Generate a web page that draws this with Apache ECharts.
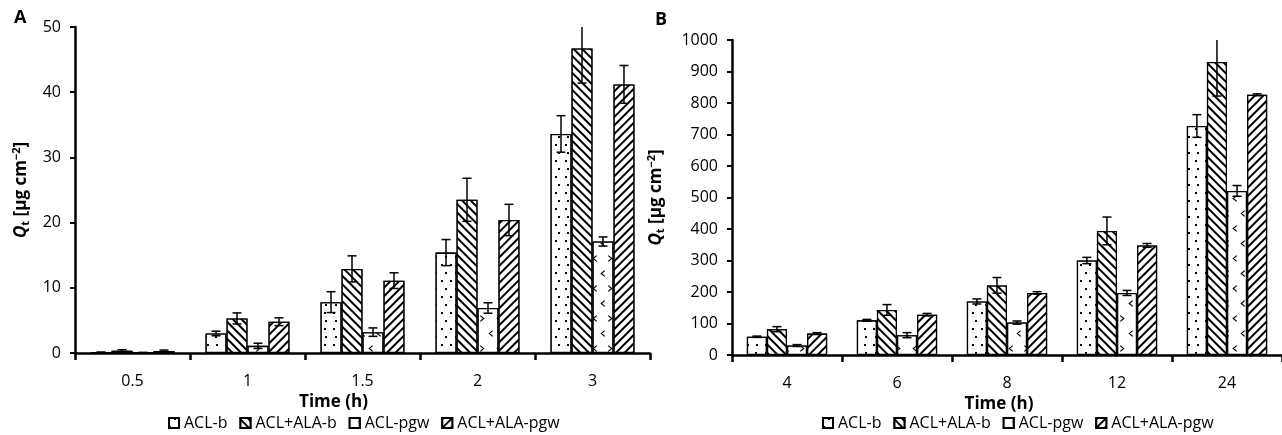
<!DOCTYPE html>
<html>
<head>
<meta charset="utf-8">
<script src="https://cdn.jsdelivr.net/npm/echarts@6/dist/echarts.min.js"></script>
<style>
    html, body { margin: 0; padding: 0; background: #fff; }
    #chart { width: 1282px; height: 435px; }
</style>
</head>
<body>
<div id="chart"></div>
<script>
    // categories
    var timesA = ['0.5', '1', '1.5', '2', '3'];
    var timesB = ['4', '6', '8', '12', '24'];
    var names = ['ACL-b', 'ACL+ALA-b', 'ACL-pgw', 'ACL+ALA-pgw'];

    // panel A values and errors
    var aclB_A = [0.1, 3.0, 7.8, 15.4, 33.6];
    var aclB_A_err = [0.05, 0.35, 1.6, 2.0, 2.8];
    var alaB_A = [0.35, 5.3, 12.9, 23.5, 46.7];
    var alaB_A_err = [0.15, 0.85, 2.0, 3.3, 5.3];
    var pgw_A = [0.05, 1.1, 3.2, 6.9, 17.1];
    var pgw_A_err = [0.05, 0.4, 0.65, 0.8, 0.7];
    var alaPgw_A = [0.3, 4.8, 11.1, 20.4, 41.2];
    var alaPgw_A_err = [0.15, 0.6, 1.2, 2.4, 2.9];

    // panel B values and errors
    var aclB_B = [58, 110, 170, 300, 727];
    var aclB_B_err = [2, 3, 8, 10, 36];
    var alaB_B = [82, 143, 221, 394, 930];
    var alaB_B_err = [8, 17, 25, 44, 108];
    var pgw_B = [30, 63, 103, 197, 521];
    var pgw_B_err = [3, 8, 5, 8, 17];
    var alaPgw_B = [68, 128, 197, 348, 826];
    var alaPgw_B_err = [3, 4, 4, 6, 3];

    var font = "'Open Sans', sans-serif";
    var gapPct = 27;

    var decals = [
        {symbol: 'rect', symbolSize: 1, color: '#000', backgroundColor: '#fff',
            dashArrayX: [[2, 7], [0, 4.5, 2, 2.5]], dashArrayY: [2, 6]},
        {symbol: 'rect', symbolSize: 1, color: '#000', backgroundColor: '#fff',
            dashArrayX: [1, 0], dashArrayY: [1.2, 3.4], rotation: Math.PI / 4},
        {symbol: ['path://M0,0L5,4L0,8L0,6.3L3,4L0,1.7Z', 'path://M5,0L0,4L5,8L5,6.3L2,4L5,1.7Z'],
            symbolSize: 1, color: '#000', backgroundColor: '#fff',
            dashArrayX: [[5, 11], [0, 8, 5, 3]], dashArrayY: [7, 8]},
        {symbol: 'rect', symbolSize: 1, color: '#000', backgroundColor: '#fff',
            dashArrayX: [1, 0], dashArrayY: [1.2, 3.4], rotation: -Math.PI / 4}
    ];

    function barSeries(name, k, data, axisIdx) {
        return {
            name: name,
            type: 'bar',
            xAxisIndex: axisIdx,
            yAxisIndex: axisIdx,
            barGap: '0%',
            barCategoryGap: gapPct + '%',
            itemStyle: {color: '#fff', borderColor: '#000', borderWidth: 1.3, decal: decals[k]},
            emphasis: {disabled: true},
            data: data
        };
    }

    function errSeries(k, vals, errs, axisIdx, yMax) {
        var d = vals.map(function (v, i) { return [i, v, errs[i]]; });
        return {
            type: 'custom',
            name: 'err' + axisIdx + k,
            xAxisIndex: axisIdx,
            yAxisIndex: axisIdx,
            z: 5,
            silent: true,
            renderItem: function (params, api) {
                var i = api.value(0), v = api.value(1), e = api.value(2);
                var catW = api.size([1, 0])[0];
                var barW = catW * (100 - gapPct) / 100 / 4;
                var x = api.coord([i, v])[0] + (k - 1.5) * barW;
                var hi = Math.min(v + e, yMax);
                var lo = Math.max(v - e, 0);
                var yHi = api.coord([i, hi])[1];
                var yLo = api.coord([i, lo])[1];
                var st = {stroke: '#000', lineWidth: 1.5};
                var ch = [
                    {type: 'line', shape: {x1: x, y1: yHi, x2: x, y2: yLo}, style: st},
                    {type: 'line', shape: {x1: x - 4.5, y1: yLo, x2: x + 4.5, y2: yLo}, style: st}
                ];
                if (v + e <= yMax) {
                    ch.push({type: 'line', shape: {x1: x - 4.5, y1: yHi, x2: x + 4.5, y2: yHi}, style: st});
                }
                return {type: 'group', children: ch};
            },
            data: d
        };
    }

    function yName() {
        return '{q|Q}{sub|t}{b| [µg cm}{sup|−2}{b|]}';
    }
    var yRich = {
        q: {fontFamily: font, fontStyle: 'italic', fontWeight: 'bold', fontSize: 17, color: '#000'},
        sub: {fontFamily: font, fontWeight: 'bold', fontSize: 11, color: '#000', padding: [9, 0, 0, 0]},
        b: {fontFamily: font, fontWeight: 'bold', fontSize: 17, color: '#000'},
        sup: {fontFamily: font, fontWeight: 'bold', fontSize: 11, color: '#000', padding: [0, 0, 9, 0]}
    };

    function xAxis(gridIdx, cats, padRight) {
        return {
            type: 'category',
            gridIndex: gridIdx,
            data: cats,
            name: 'Time (h)',
            nameLocation: 'middle',
            nameGap: 40,
            nameTextStyle: {fontFamily: font, fontWeight: 'bold', fontSize: 17, color: '#000', padding: [0, padRight, 0, 0]},
            axisLine: {lineStyle: {color: '#000', width: 2.5}},
            axisTick: {show: true, length: 7, interval: 0, lineStyle: {color: '#000', width: 2.5}},
            axisLabel: {margin: 20, fontFamily: font, fontSize: 16, color: '#000'},
            splitLine: {show: false}
        };
    }

    function yAxis(gridIdx, max, interval, gap) {
        return {
            type: 'value',
            gridIndex: gridIdx,
            min: 0,
            max: max,
            interval: interval,
            name: yName(),
            nameLocation: 'middle',
            nameRotate: 90,
            nameGap: gap,
            nameTextStyle: {rich: yRich},
            axisLine: {show: true, lineStyle: {color: '#000', width: 2.5}},
            axisTick: {show: true, length: 5, lineStyle: {color: '#000', width: 2}},
            axisLabel: {margin: 14, fontFamily: font, fontSize: 16, color: '#000',
                formatter: function (v) { return String(v); }},
            splitLine: {show: false}
        };
    }

    var legendBase = {
        orient: 'horizontal',
        top: 413,
        padding: 0,
        icon: 'rect',
        itemWidth: 10,
        itemHeight: 10,
        itemGap: 12,
        textStyle: {fontFamily: font, fontSize: 16, lineHeight: 20, color: '#000'},
        selectedMode: false,
        data: names
    };

    var chart = echarts.init(document.getElementById('chart'), null, {renderer: 'canvas'});

    var option = {
        backgroundColor: '#fff',
        animation: false,
        title: [
            {text: 'A', left: 9, top: 4, textStyle: {fontFamily: font, fontWeight: 'bold', fontSize: 18, color: '#000'}},
            {text: 'B', left: 650, top: 6, textStyle: {fontFamily: font, fontWeight: 'bold', fontSize: 18, color: '#000'}}
        ],
        legend: [
            Object.assign({}, legendBase, {left: 168}),
            Object.assign({}, legendBase, {left: 822})
        ],
        grid: [
            {left: 75, top: 27, width: 575, height: 326},
            {left: 732, top: 40, width: 558, height: 315}
        ],
        xAxis: [xAxis(0, timesA, 58), xAxis(1, timesB, 16)],
        yAxis: [yAxis(0, 50, 10, 44), yAxis(1, 1000, 100, 66)],
        series: [
            barSeries(names[0], 0, aclB_A, 0),
            barSeries(names[1], 1, alaB_A, 0),
            barSeries(names[2], 2, pgw_A, 0),
            barSeries(names[3], 3, alaPgw_A, 0),
            barSeries(names[0], 0, aclB_B, 1),
            barSeries(names[1], 1, alaB_B, 1),
            barSeries(names[2], 2, pgw_B, 1),
            barSeries(names[3], 3, alaPgw_B, 1),
            errSeries(0, aclB_A, aclB_A_err, 0, 50),
            errSeries(1, alaB_A, alaB_A_err, 0, 50),
            errSeries(2, pgw_A, pgw_A_err, 0, 50),
            errSeries(3, alaPgw_A, alaPgw_A_err, 0, 50),
            errSeries(0, aclB_B, aclB_B_err, 1, 1000),
            errSeries(1, alaB_B, alaB_B_err, 1, 1000),
            errSeries(2, pgw_B, pgw_B_err, 1, 1000),
            errSeries(3, alaPgw_B, alaPgw_B_err, 1, 1000)
        ]
    };
    chart.setOption(option);
</script>
</body>
</html>
